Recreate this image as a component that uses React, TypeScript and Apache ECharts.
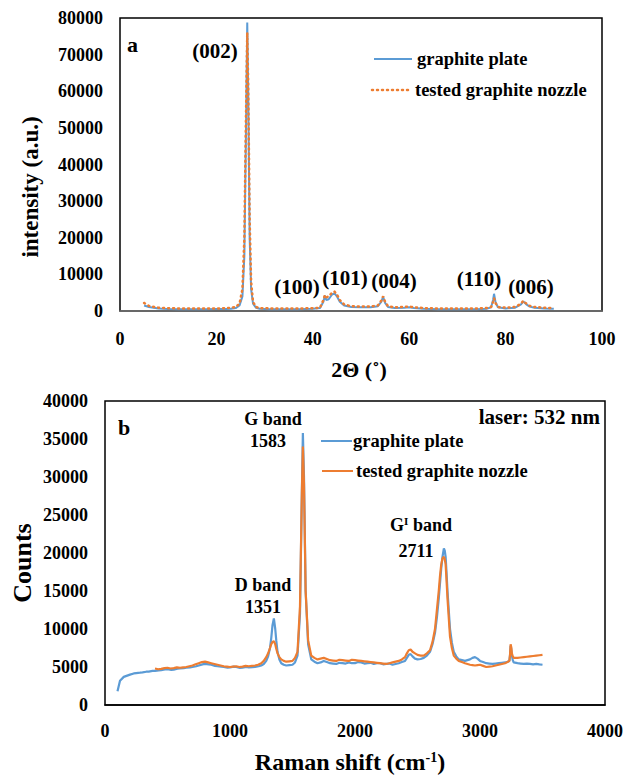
import React, { useEffect, useRef } from "react";
import * as echarts from "echarts";

// ---- Data: XRD (panel a) ----
const xrdPlate: [number, number][] = [
  [5, 1500], [5.5, 1300], [6, 1100], [7, 900], [8, 700], [9, 600], [10, 550], [12, 500], [14, 480], [16, 500],
  [18, 480], [20, 520], [22, 550], [23, 600], [24, 800], [24.8, 1500], [25.4, 4000], [25.8, 15000], [26.1, 45000],
  [26.4, 78800], [26.6, 60000], [26.9, 20000], [27.2, 6000], [27.6, 2000], [28.2, 900], [29, 600], [31, 500],
  [34, 480], [37, 500], [40, 600], [41.5, 800], [42.2, 2500], [42.5, 4200], [42.8, 3000], [43.3, 3200], [44, 4500],
  [44.5, 4800], [45, 4000], [45.6, 2500], [46.5, 1500], [48, 1100], [50, 1000], [52, 1000], [53.5, 1300],
  [54.2, 2500], [54.6, 3900], [55, 2200], [55.6, 1100], [57, 800], [59, 900], [60, 1000], [61, 800], [63, 600],
  [66, 500], [70, 480], [74, 500], [76, 600], [77, 1000], [77.4, 3000], [77.6, 4700], [77.9, 2500], [78.4, 1000],
  [80, 700], [82, 900], [83.2, 1800], [83.7, 2600], [84.3, 1800], [85, 1200], [86, 900], [88, 700], [90, 600],
];
const xrdNozzle: [number, number][] = [
  [5, 2200], [5.5, 1800], [6, 1400], [7, 1100], [8, 900], [9, 800], [10, 750], [12, 700], [14, 680], [16, 700],
  [18, 690], [20, 700], [22, 750], [23, 850], [24, 1100], [24.8, 2000], [25.4, 6000], [25.8, 20000], [26.1, 50000],
  [26.4, 76000], [26.6, 62000], [26.9, 25000], [27.2, 8000], [27.6, 2500], [28.2, 1100], [29, 800], [31, 700],
  [34, 680], [37, 700], [40, 750], [41.5, 900], [42.2, 3000], [42.5, 4300], [42.8, 3700], [43.3, 4000], [44, 5000],
  [44.5, 5300], [45, 4500], [45.6, 3000], [46.5, 1800], [48, 1300], [50, 1200], [52, 1200], [53.5, 1500],
  [54.2, 2800], [54.6, 4000], [55, 2500], [55.6, 1300], [57, 1000], [59, 1100], [60, 1200], [61, 1000], [63, 800],
  [66, 700], [70, 650], [74, 700], [76, 800], [77, 1100], [77.4, 2500], [77.6, 3500], [77.9, 2200], [78.4, 1100],
  [80, 900], [82, 1100], [83.2, 2000], [83.7, 2800], [84.3, 2000], [85, 1400], [86, 1100], [88, 900], [90, 800],
];

// ---- Data: Raman (panel b) ----
const ramanPlate: [number, number][] = [
  [100, 1800], [120, 3200], [150, 3700], [200, 4000], [230, 4150], [250, 4200], [280, 4250], [300, 4300],
  [330, 4380], [350, 4400], [380, 4480], [400, 4500], [430, 4560], [450, 4600], [480, 4680], [500, 4700],
  [530, 4620], [550, 4650], [580, 4780], [600, 4800], [630, 4850], [650, 4900], [680, 4950], [700, 5000],
  [730, 5100], [750, 5200], [780, 5350], [800, 5400], [830, 5350], [850, 5300], [880, 5150], [900, 5100],
  [930, 5050], [950, 5000], [980, 4920], [1000, 4950], [1030, 5050], [1050, 5000], [1080, 4880], [1100, 4900],
  [1130, 5000], [1150, 4950], [1180, 4980], [1200, 5000], [1230, 5100], [1250, 5200], [1270, 5400], [1290, 5800],
  [1305, 6400], [1320, 7500], [1330, 8800], [1340, 10500], [1351, 11400], [1362, 10000], [1370, 8500],
  [1380, 7000], [1395, 6000], [1410, 5500], [1430, 5300], [1450, 5200], [1475, 5250], [1500, 5300], [1520, 5600],
  [1540, 6500], [1560, 12000], [1575, 28000], [1583, 35800], [1592, 30000], [1605, 15000], [1625, 8000],
  [1650, 6000], [1675, 5700], [1700, 5500], [1725, 5600], [1750, 5800], [1775, 5650], [1800, 5500], [1825, 5450],
  [1850, 5400], [1875, 5550], [1900, 5500], [1925, 5450], [1950, 5600], [1975, 5500], [2000, 5500], [2025, 5650],
  [2050, 5600], [2075, 5450], [2100, 5500], [2125, 5550], [2150, 5400], [2175, 5500], [2200, 5500], [2225, 5350],
  [2250, 5400], [2275, 5450], [2300, 5300], [2325, 5400], [2350, 5500], [2375, 5650], [2400, 5800], [2415, 6200],
  [2430, 6600], [2445, 6700], [2460, 6400], [2480, 6100], [2500, 6000], [2525, 6050], [2550, 6200], [2575, 6500],
  [2600, 7000], [2620, 8000], [2640, 9500], [2655, 11500], [2670, 14000], [2680, 16000], [2690, 18000],
  [2700, 19500], [2711, 20600], [2718, 20300], [2725, 19500], [2732, 17500], [2740, 15000], [2750, 12500],
  [2760, 10000], [2775, 8200], [2790, 7000], [2810, 6400], [2830, 6000], [2855, 5900], [2880, 5800], [2900, 5900],
  [2920, 6000], [2940, 6200], [2960, 6300], [2980, 6100], [3000, 5800], [3025, 5650], [3050, 5500], [3075, 5450],
  [3100, 5400], [3125, 5450], [3150, 5500], [3175, 5550], [3200, 5600], [3220, 5700], [3235, 5800], [3240, 6500],
  [3245, 7800], [3250, 7400], [3255, 6500], [3262, 5900], [3270, 5600], [3300, 5500], [3325, 5450], [3350, 5400],
  [3375, 5450], [3400, 5400], [3425, 5350], [3450, 5400], [3475, 5350], [3500, 5300],
];
const ramanNozzle: [number, number][] = [
  [400, 4800], [425, 4700], [450, 4750], [475, 4850], [500, 4900], [525, 4800], [550, 4850], [575, 4950],
  [600, 4900], [625, 4950], [650, 5000], [675, 5100], [700, 5200], [725, 5350], [750, 5500], [775, 5650],
  [800, 5700], [825, 5600], [850, 5500], [875, 5400], [900, 5300], [925, 5200], [950, 5100], [975, 5050],
  [1000, 5000], [1025, 5050], [1050, 5100], [1075, 5000], [1100, 5050], [1125, 5150], [1150, 5100], [1175, 5150],
  [1200, 5200], [1225, 5300], [1250, 5500], [1270, 5800], [1290, 6300], [1305, 6800], [1320, 7500], [1330, 8000],
  [1340, 8300], [1351, 8400], [1362, 8000], [1370, 7400], [1380, 6800], [1395, 6300], [1410, 6000], [1430, 5800],
  [1450, 5700], [1475, 5750], [1500, 5800], [1520, 6200], [1540, 7000], [1560, 13000], [1575, 28000],
  [1583, 34000], [1592, 29000], [1605, 15000], [1625, 8500], [1650, 6500], [1675, 6200], [1700, 6000],
  [1725, 6100], [1750, 6200], [1775, 6050], [1800, 5900], [1825, 5850], [1850, 5800], [1875, 5950], [1900, 5900],
  [1925, 5850], [1950, 5800], [1975, 5950], [2000, 5900], [2025, 5850], [2050, 5800], [2075, 5750], [2100, 5700],
  [2125, 5650], [2150, 5600], [2175, 5550], [2200, 5500], [2225, 5450], [2250, 5400], [2275, 5500], [2300, 5600],
  [2325, 5700], [2350, 5800], [2375, 6000], [2400, 6300], [2415, 6800], [2430, 7200], [2445, 7300], [2460, 7000],
  [2480, 6800], [2500, 6600], [2525, 6500], [2550, 6500], [2575, 6800], [2600, 7200], [2620, 8300], [2640, 10000],
  [2655, 12500], [2670, 15000], [2680, 17000], [2690, 18500], [2700, 19300], [2711, 19500], [2718, 19200],
  [2725, 18500], [2732, 16500], [2740, 14000], [2750, 11500], [2760, 9000], [2775, 7500], [2790, 6500],
  [2810, 6100], [2830, 5800], [2855, 5650], [2880, 5500], [2900, 5400], [2920, 5300], [2940, 5250], [2960, 5200],
  [2980, 5250], [3000, 5300], [3025, 5150], [3050, 5000], [3075, 5050], [3100, 5100], [3125, 5200], [3150, 5300],
  [3175, 5400], [3200, 5500], [3220, 5650], [3235, 5800], [3240, 6600], [3245, 8000], [3250, 7600], [3255, 6800],
  [3262, 6400], [3270, 6200], [3300, 6200], [3325, 6250], [3350, 6300], [3375, 6350], [3400, 6400], [3425, 6450],
  [3450, 6500], [3475, 6550], [3500, 6600],
];

const seriesNames = ["graphite plate", "tested graphite nozzle"];
const xrdPeakLabels = ["(100)", "(101)", "(004)", "(110)", "(006)"];

const BLUE = "#5B9BD5";
const ORANGE = "#ED7D31";
const FONT = "Liberation Serif";

export default function App() {
  const ref = useRef<HTMLDivElement>(null);
  useEffect(() => {
    if (!ref.current) return;
    const chart = echarts.init(ref.current, null, { renderer: "svg" });
    const tickLabel = {
      fontFamily: FONT, fontWeight: "bold" as const, fontSize: 18, color: "#000",
      formatter: (v: number) => String(v),
    };
    const txt = (x: number, y: number, text: string, size: number, align = "center") => ({
      type: "text",
      x,
      y,
      style: { text, fontFamily: FONT, fontWeight: "bold", fontSize: size, fill: "#000", align, verticalAlign: "middle" },
    });
    const peakPos = [
      [297, 287], [345, 278], [394, 281], [479, 279], [531, 287],
    ];
    chart.setOption({
      animation: false,
      backgroundColor: "#fff",
      textStyle: { fontFamily: FONT },
      grid: [
        { left: 120, top: 18, width: 482, height: 293, show: true, borderColor: "#000", borderWidth: 1.5 },
        { left: 105, top: 401, width: 500, height: 304, show: true, borderColor: "#000", borderWidth: 1.5 },
      ],
      xAxis: [
        {
          gridIndex: 0, type: "value", min: 0, max: 100, interval: 20,
          axisLine: { show: true, lineStyle: { color: "#777", width: 1.5 } }, axisTick: { show: false },
          splitLine: { show: false }, axisLabel: { ...tickLabel, margin: 19 },
        },
        {
          gridIndex: 1, type: "value", min: 0, max: 4000, interval: 1000,
          axisLine: { show: true, lineStyle: { color: "#000", width: 1.5 } }, axisTick: { show: false },
          splitLine: { show: false }, axisLabel: { ...tickLabel, margin: 17 },
        },
      ],
      yAxis: [
        {
          gridIndex: 0, type: "value", min: 0, max: 80000, interval: 10000,
          axisLine: { show: false }, axisTick: { show: false }, splitLine: { show: false },
          axisLabel: { ...tickLabel, margin: 17 },
        },
        {
          gridIndex: 1, type: "value", min: 0, max: 40000, interval: 5000,
          axisLine: { show: false }, axisTick: { show: false }, splitLine: { show: false },
          axisLabel: { ...tickLabel, margin: 17 },
        },
      ],
      series: [
        {
          name: seriesNames[0], type: "line", xAxisIndex: 0, yAxisIndex: 0, data: xrdPlate, showSymbol: false,
          lineStyle: { color: BLUE, width: 2 },
        },
        {
          name: seriesNames[1], type: "line", xAxisIndex: 0, yAxisIndex: 0, data: xrdNozzle, showSymbol: false,
          lineStyle: { color: ORANGE, width: 2.5, type: [1, 4], cap: "round" },
        },
        {
          name: seriesNames[0], type: "line", xAxisIndex: 1, yAxisIndex: 1, data: ramanPlate, showSymbol: false,
          lineStyle: { color: BLUE, width: 2.2 },
        },
        {
          name: seriesNames[1], type: "line", xAxisIndex: 1, yAxisIndex: 1, data: ramanNozzle, showSymbol: false,
          lineStyle: { color: ORANGE, width: 2.2 },
        },
      ],
      graphic: [
        // Panel a
        { type: "text", x: 30, y: 187, rotation: Math.PI / 2, style: { text: "intensity (a.u.)", fontFamily: FONT, fontWeight: "bold", fontSize: 23, fill: "#000", align: "center", verticalAlign: "middle" } },
        txt(359, 369, "2Θ (˚)", 22),
        txt(127, 44, "a", 22, "left"),
        txt(215, 51, "(002)", 21),
        ...xrdPeakLabels.map((t, i) => txt(peakPos[i][0], peakPos[i][1], t, 21)),
        { type: "line", shape: { x1: 374, y1: 59, x2: 412, y2: 59 }, style: { stroke: BLUE, lineWidth: 2 } },
        txt(417, 59, seriesNames[0], 18.5, "left"),
        { type: "line", shape: { x1: 372, y1: 90, x2: 410, y2: 90 }, style: { stroke: ORANGE, lineWidth: 2.5, lineDash: [1, 4], lineCap: "round" } },
        txt(415, 90, seriesNames[1], 18.5, "left"),
        // Panel b
        { type: "text", x: 22, y: 563, rotation: Math.PI / 2, style: { text: "Counts", fontFamily: FONT, fontWeight: "bold", fontSize: 26, fill: "#000", align: "center", verticalAlign: "middle" } },
        {
          type: "text", x: 350, y: 762,
          style: {
            text: "{a|Raman shift (cm}{s|-1}{a|)}", fontFamily: FONT, fontWeight: "bold", fill: "#000", align: "center", verticalAlign: "middle",
            rich: {
              a: { fontFamily: FONT, fontWeight: "bold", fontSize: 24, fill: "#000" },
              s: { fontFamily: FONT, fontWeight: "bold", fontSize: 14, fill: "#000", verticalAlign: "top", padding: [0, 0, 10, 0] },
            },
          },
        },
        txt(118, 427, "b", 22, "left"),
        txt(600, 417, "laser: 532 nm", 21, "right"),
        txt(273, 419, "G band", 18),
        txt(268, 441, "1583", 18),
        {
          type: "text", x: 421, y: 525,
          style: {
            text: "{a|G}{s|I}{a| band}", fontFamily: FONT, fontWeight: "bold", fill: "#000", align: "center", verticalAlign: "middle",
            rich: {
              a: { fontFamily: FONT, fontWeight: "bold", fontSize: 18, fill: "#000" },
              s: { fontFamily: FONT, fontWeight: "bold", fontSize: 11, fill: "#000", verticalAlign: "top", padding: [0, 0, 8, 0] },
            },
          },
        },
        txt(416, 551, "2711", 18),
        txt(263, 585, "D band", 18),
        txt(263, 607, "1351", 18),
        { type: "line", shape: { x1: 321, y1: 441, x2: 352, y2: 441 }, style: { stroke: BLUE, lineWidth: 2 } },
        txt(353, 441, seriesNames[0], 18.5, "left"),
        { type: "line", shape: { x1: 322, y1: 471, x2: 353, y2: 471 }, style: { stroke: ORANGE, lineWidth: 2 } },
        txt(356, 471, seriesNames[1], 18.5, "left"),
      ],
    });
    return () => chart.dispose();
  }, []);
  return <div ref={ref} style={{ position: "absolute", left: 0, top: 0, width: 628, height: 776 }} />;
}
